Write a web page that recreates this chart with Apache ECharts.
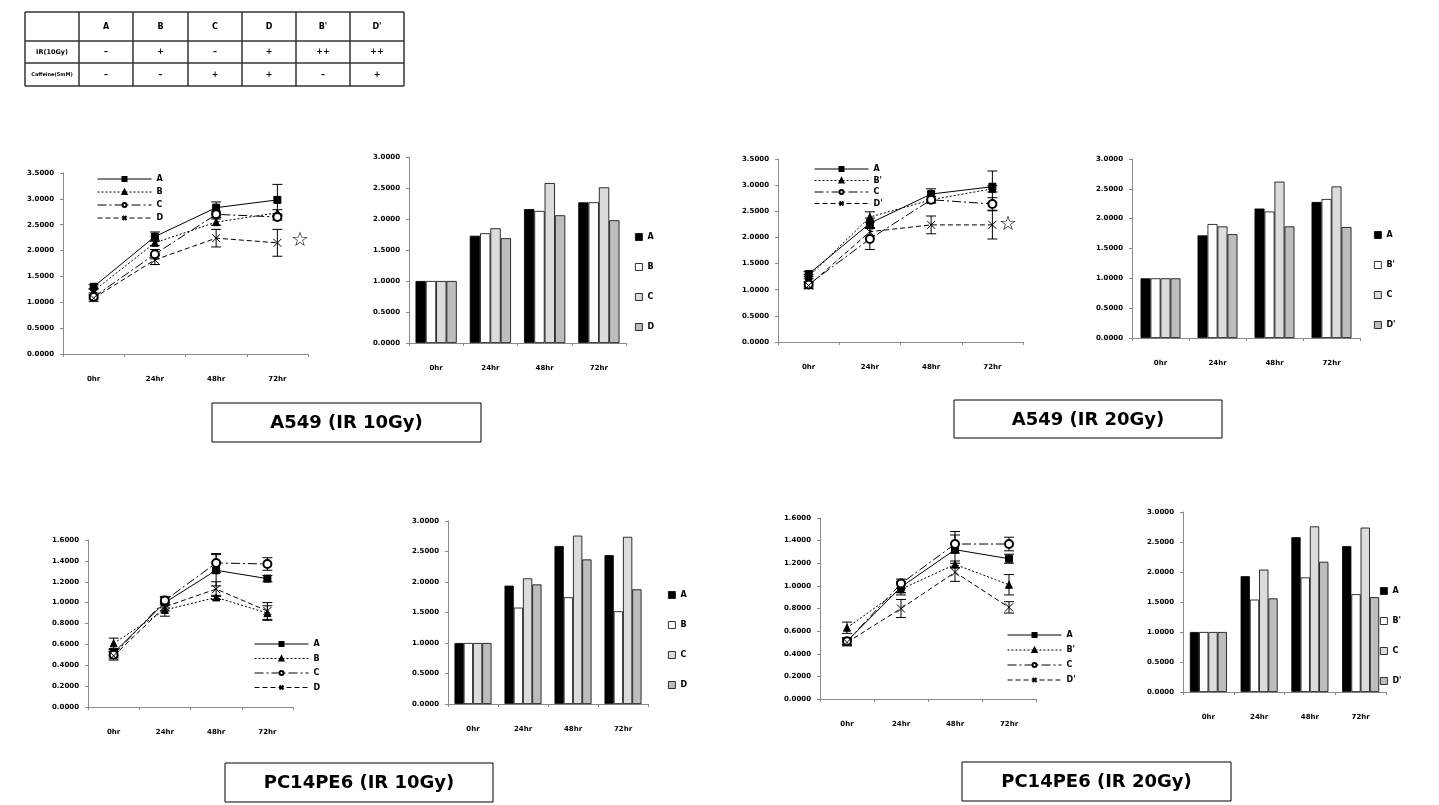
<!DOCTYPE html>
<html><head><meta charset="utf-8">
<script src="https://cdn.jsdelivr.net/npm/echarts@6/dist/echarts.min.js"></script>
<style>
html,body{margin:0;padding:0;background:#fff;width:1439px;height:805px;overflow:hidden}
.layer{position:absolute;left:0;top:0;width:1439px;height:805px}
</style>
</head><body>
<script>
// ---------------- DATA ----------------
const hours = ['0hr', '24hr', '48hr', '72hr'];
const names10 = ['A', 'B', 'C', 'D'];
const names20 = ['A', "B'", 'C', "D'"];

// A549 (IR 10Gy) - line chart (means and error bars)
const a549_10_A = [1.30, 2.27, 2.83, 2.98];
const a549_10_B = [1.22, 2.15, 2.55, 2.73];
const a549_10_C = [1.10, 1.93, 2.70, 2.65];
const a549_10_D = [1.08, 1.82, 2.24, 2.15];
const a549_10_Aerr = [0.04, 0.09, 0.11, 0.30];
const a549_10_Berr = [0.04, 0.05, 0.06, 0.06];
const a549_10_Cerr = [0.04, 0.09, 0.06, 0.06];
const a549_10_Derr = [0.06, 0.09, 0.17, 0.26];
// A549 (IR 10Gy) - bar chart
const a549_10_barA = [1.00, 1.73, 2.16, 2.27];
const a549_10_barB = [1.00, 1.77, 2.13, 2.27];
const a549_10_barC = [1.00, 1.85, 2.58, 2.51];
const a549_10_barD = [1.00, 1.69, 2.06, 1.98];

// A549 (IR 20Gy) - line chart
const a549_20_A = [1.30, 2.27, 2.83, 2.97];
const a549_20_B = [1.25, 2.39, 2.72, 2.93];
const a549_20_C = [1.10, 1.97, 2.72, 2.64];
const a549_20_D = [1.08, 2.11, 2.24, 2.24];
const a549_20_Aerr = [0.05, 0.10, 0.10, 0.30];
const a549_20_Berr = [0.04, 0.10, 0.06, 0.06];
const a549_20_Cerr = [0.05, 0.20, 0.06, 0.12];
const a549_20_Derr = [0.06, 0.08, 0.17, 0.27];
// A549 (IR 20Gy) - bar chart
const a549_20_barA = [1.00, 1.72, 2.17, 2.28];
const a549_20_barB = [1.00, 1.91, 2.12, 2.33];
const a549_20_barC = [1.00, 1.87, 2.62, 2.54];
const a549_20_barD = [1.00, 1.74, 1.87, 1.86];

// PC14PE6 (IR 10Gy) - line chart
const pc_10_A = [0.52, 1.00, 1.31, 1.23];
const pc_10_B = [0.61, 0.93, 1.05, 0.90];
const pc_10_C = [0.50, 1.02, 1.38, 1.37];
const pc_10_D = [0.49, 0.96, 1.13, 0.92];
const pc_10_Aerr = [0.03, 0.05, 0.15, 0.03];
const pc_10_Berr = [0.05, 0.06, 0.02, 0.07];
const pc_10_Cerr = [0.03, 0.04, 0.09, 0.06];
const pc_10_Derr = [0.04, 0.04, 0.07, 0.08];
// PC14PE6 (IR 10Gy) - bar chart
const pc_10_barA = [1.00, 1.94, 2.59, 2.44];
const pc_10_barB = [1.00, 1.58, 1.75, 1.52];
const pc_10_barC = [1.00, 2.06, 2.76, 2.74];
const pc_10_barD = [1.00, 1.96, 2.37, 1.88];

// PC14PE6 (IR 20Gy) - line chart
const pc_20_A = [0.51, 0.99, 1.32, 1.24];
const pc_20_B = [0.63, 0.97, 1.19, 1.01];
const pc_20_C = [0.51, 1.02, 1.37, 1.37];
const pc_20_D = [0.50, 0.80, 1.12, 0.81];
const pc_20_Aerr = [0.03, 0.05, 0.16, 0.04];
const pc_20_Berr = [0.05, 0.05, 0.03, 0.09];
const pc_20_Cerr = [0.03, 0.04, 0.08, 0.06];
const pc_20_Derr = [0.03, 0.08, 0.08, 0.05];
// PC14PE6 (IR 20Gy) - bar chart
const pc_20_barA = [1.00, 1.93, 2.58, 2.43];
const pc_20_barB = [1.00, 1.54, 1.91, 1.63];
const pc_20_barC = [1.00, 2.04, 2.76, 2.74];
const pc_20_barD = [1.00, 1.56, 2.17, 1.58];

// Table
const tableHeader = ['', 'A', 'B', 'C', 'D', "B'", "D'"];
const tableIR = ['IR(10Gy)', '–', '+', '–', '+', '++', '++'];
const tableCaffeine = ['Caffeine(5mM)', '–', '–', '+', '+', '–', '+'];

// Panel titles
const panelTitles = ['A549 (IR 10Gy)', 'A549 (IR 20Gy)', 'PC14PE6 (IR 10Gy)', 'PC14PE6 (IR 20Gy)'];

// ---------------- RENDERING ----------------
const FONT = 'DejaVu Sans';
const AXIS_COLOR = '#8a8a8a';

function makeLayer() {
  const d = document.createElement('div');
  d.className = 'layer';
  document.body.appendChild(d);
  return echarts.init(d, null, {renderer: 'canvas'});
}

const lineStyles = [
  {symbol: 'rect', size: 7, dash: 'solid', fill: '#000'},
  {symbol: 'triangle', size: 7, dash: [2, 2], fill: '#000'},
  {symbol: 'emptyCircle', size: 8, dash: [9, 3, 2, 3], fill: '#000'},
  {symbol: 'path://M0,0L10,10M10,0L0,10', size: 8, dash: [5, 3], fill: '#000'}
];
const barColors = ['#000000', '#ffffff', '#dcdcdc', '#bdbdbd'];

function yAxisCfg(max, interval) {
  return {
    type: 'value', min: 0, max: max, interval: interval,
    axisLine: {show: true, lineStyle: {color: AXIS_COLOR, width: 1}},
    axisTick: {show: true, length: 3, lineStyle: {color: AXIS_COLOR}},
    splitLine: {show: false},
    axisLabel: {formatter: v => v.toFixed(4), fontFamily: FONT, fontWeight: 'bold', fontSize: 7, color: '#000', margin: 9}
  };
}
function xAxisCfg() {
  return {
    type: 'category', data: hours, boundaryGap: true,
    axisLine: {show: true, lineStyle: {color: AXIS_COLOR, width: 1}},
    axisTick: {show: true, length: 3, lineStyle: {color: AXIS_COLOR}},
    axisLabel: {fontFamily: FONT, fontWeight: 'bold', fontSize: 7, color: '#000', margin: 22}
  };
}

function errRender(params, api) {
  const x = api.value(0), v = api.value(1), e = api.value(2);
  const t = api.coord([x, v + e]);
  const b = api.coord([x, v - e]);
  const w = 5;
  const st = {stroke: '#000', lineWidth: 1};
  return {type: 'group', children: [
    {type: 'line', shape: {x1: t[0], y1: t[1], x2: b[0], y2: b[1]}, style: st},
    {type: 'line', shape: {x1: t[0] - w, y1: t[1], x2: t[0] + w, y2: t[1]}, style: st},
    {type: 'line', shape: {x1: b[0] - w, y1: b[1], x2: b[0] + w, y2: b[1]}, style: st}
  ]};
}

function lineChart(grid, yMax, yInt, names, vals, errs, legendPos, star) {
  const ch = makeLayer();
  const series = [];
  names.forEach((n, i) => {
    const s = lineStyles[i];
    series.push({
      type: 'line', name: n, data: vals[i], symbol: s.symbol, symbolSize: s.size,
      lineStyle: {color: '#000', width: 1, type: s.dash},
      itemStyle: {color: s.fill, borderColor: '#000', borderWidth: 1},
      z: 3
    });
    series.push({
      type: 'custom', name: 'err' + i, renderItem: errRender,
      data: vals[i].map((v, k) => [k, v, errs[i][k]]),
      encode: {x: 0, y: 1}, z: 2, silent: true
    });
  });
  const opt = {
    animation: false,
    grid: Object.assign({containLabel: false, outerBoundsMode: 'none'}, grid),
    xAxis: xAxisCfg(), yAxis: yAxisCfg(yMax, yInt),
    legend: {
      data: names, orient: 'vertical', left: legendPos[0], top: legendPos[1],
      itemWidth: 54, itemHeight: 5, itemGap: legendPos[2],
      lineStyle: {width: 1},
      textStyle: {fontFamily: FONT, fontWeight: 'bold', fontSize: 8, color: '#000', lineHeight: 10}
    },
    series: series
  };
  if (star) {
    opt.graphic = [{type: 'text', left: star[0], top: star[1],
      style: {text: '☆', fontFamily: FONT, fontSize: 20, fill: '#000'}}];
  }
  ch.setOption(opt);
}

function barChart(grid, names, vals, catGap, legendPos) {
  const ch = makeLayer();
  const series = names.map((n, i) => ({
    type: 'bar', name: n, data: vals[i], barGap: '0%', barCategoryGap: catGap,
    itemStyle: {color: barColors[i], borderColor: '#000', borderWidth: 0.8}
  }));
  ch.setOption({
    animation: false,
    grid: Object.assign({containLabel: false, outerBoundsMode: 'none'}, grid),
    xAxis: xAxisCfg(), yAxis: yAxisCfg(3, 0.5),
    legend: {
      data: names, orient: 'vertical', left: legendPos[0], top: legendPos[1],
      icon: 'rect', itemWidth: 7, itemHeight: 7, itemGap: legendPos[2],
      itemStyle: {borderColor: '#000', borderWidth: 0.8},
      textStyle: {fontFamily: FONT, fontWeight: 'bold', fontSize: 8, color: '#000', lineHeight: 10, padding: [6, 0, 0, 0]}
    },
    series: series
  });
}

// Background layer: table + title boxes
(function () {
  const ch = makeLayer();
  const xs = [25, 79, 133, 188, 242, 296, 350, 404];
  const ys = [12, 41, 63, 86];
  const g = [];
  xs.forEach(x => g.push({type: 'line', shape: {x1: x, y1: ys[0], x2: x, y2: ys[3]}, style: {stroke: '#333', lineWidth: 1.5}}));
  ys.forEach(y => g.push({type: 'line', shape: {x1: xs[0], y1: y, x2: xs[7], y2: y}, style: {stroke: '#333', lineWidth: 1.5}}));
  const rows = [tableHeader, tableIR, tableCaffeine];
  rows.forEach((r, ri) => {
    const cy = (ys[ri] + ys[ri + 1]) / 2;
    r.forEach((t, ci) => {
      if (!t) return;
      const cx = (xs[ci] + xs[ci + 1]) / 2;
      let fs = 8;
      if (ci === 0) fs = ri === 2 ? 5 : 6.5;
      g.push({type: 'text', x: cx, y: cy, style: {text: t, fontFamily: FONT, fontWeight: 'bold', fontSize: fs, fill: '#000', align: 'center', verticalAlign: 'middle'}});
    });
  });
  const boxes = [[212, 403, 269, 39], [954, 400, 268, 38], [225, 763, 268, 39], [962, 762, 269, 39]];
  boxes.forEach((b, i) => {
    g.push({type: 'rect', shape: {x: b[0], y: b[1], width: b[2], height: b[3]}, style: {fill: '#fff', stroke: '#000', lineWidth: 1}});
    g.push({type: 'text', x: b[0] + b[2] / 2, y: b[1] + b[3] / 2 + 1, style: {text: panelTitles[i], fontFamily: FONT, fontWeight: 'bold', fontSize: 18, fill: '#000', align: 'center', verticalAlign: 'middle'}});
  });
  ch.setOption({animation: false, graphic: g});
})();

// Charts
lineChart({left: 63, top: 173, width: 245, height: 181}, 3.5, 0.5, names10,
  [a549_10_A, a549_10_B, a549_10_C, a549_10_D],
  [a549_10_Aerr, a549_10_Berr, a549_10_Cerr, a549_10_Derr],
  [92, 169, 3], [291, 231]);
barChart({left: 409, top: 157, width: 217, height: 186}, names10,
  [a549_10_barA, a549_10_barB, a549_10_barC, a549_10_barD], '24%', [630, 224, 14]);

lineChart({left: 778, top: 159, width: 245, height: 183}, 3.5, 0.5, names20,
  [a549_20_A, a549_20_B, a549_20_C, a549_20_D],
  [a549_20_Aerr, a549_20_Berr, a549_20_Cerr, a549_20_Derr],
  [809, 159, 1.5], [999, 215]);
barChart({left: 1132, top: 159, width: 228, height: 179}, names20,
  [a549_20_barA, a549_20_barB, a549_20_barC, a549_20_barD], '30%', [1369, 222, 14]);

lineChart({left: 88, top: 540, width: 205, height: 167}, 1.6, 0.2, names10,
  [pc_10_A, pc_10_B, pc_10_C, pc_10_D],
  [pc_10_Aerr, pc_10_Berr, pc_10_Cerr, pc_10_Derr],
  [249, 634, 4.5], null);
barChart({left: 448, top: 521, width: 200, height: 183}, names10,
  [pc_10_barA, pc_10_barB, pc_10_barC, pc_10_barD], '26%', [663, 582, 14]);

lineChart({left: 820, top: 518, width: 216, height: 181}, 1.6, 0.2, names20,
  [pc_20_A, pc_20_B, pc_20_C, pc_20_D],
  [pc_20_Aerr, pc_20_Berr, pc_20_Cerr, pc_20_Derr],
  [1002, 625, 5], null);
barChart({left: 1183, top: 512, width: 203, height: 180}, names20,
  [pc_20_barA, pc_20_barB, pc_20_barC, pc_20_barD], '27%', [1375, 578, 14]);
</script>
</body></html>
